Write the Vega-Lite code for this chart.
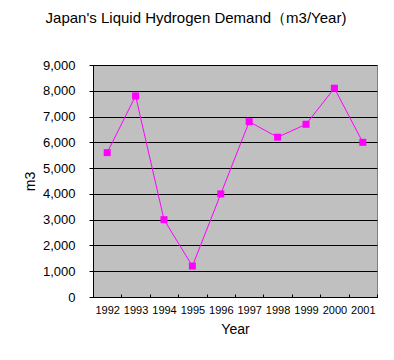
{
  "$schema": "https://vega.github.io/schema/vega-lite/v6.json",
  "width": 284,
  "height": 232,
  "autosize": "none",
  "padding": {"left": 93, "top": 65, "right": 17, "bottom": 63},
  "background": "white",
  "title": {
    "text": "Japan's Liquid Hydrogen Demand（m3/Year)",
    "font": "Liberation Sans",
    "fontSize": 15,
    "fontWeight": "normal",
    "color": "black",
    "anchor": "middle",
    "dx": -39,
    "offset": 33
  },
  "data": {
    "values": [
      {"Year": "1992", "m3": 5600},
      {"Year": "1993", "m3": 7800},
      {"Year": "1994", "m3": 3000},
      {"Year": "1995", "m3": 1200},
      {"Year": "1996", "m3": 4000},
      {"Year": "1997", "m3": 6800},
      {"Year": "1998", "m3": 6200},
      {"Year": "1999", "m3": 6700},
      {"Year": "2000", "m3": 8100},
      {"Year": "2001", "m3": 6000}
    ]
  },
  "encoding": {
    "x": {
      "field": "Year",
      "type": "ordinal",
      "scale": {"type": "band", "paddingInner": 0, "paddingOuter": 0},
      "axis": {
        "title": "Year",
        "labelAngle": 0,
        "labelFont": "Liberation Sans",
        "labelFontSize": 11,
        "labelColor": "black",
        "labelPadding": 10,
        "titleFont": "Liberation Sans",
        "titleFontSize": 14,
        "titleFontWeight": "normal",
        "titleColor": "black",
        "titlePadding": 7,
        "tickBand": "extent",
        "tickSize": -3,
        "tickColor": "black",
        "domainColor": "black",
        "grid": false
      }
    },
    "y": {
      "field": "m3",
      "type": "quantitative",
      "scale": {"domain": [0, 9000], "nice": false},
      "axis": {
        "title": "m3",
        "values": [0, 1000, 2000, 3000, 4000, 5000, 6000, 7000, 8000, 9000],
        "format": ",d",
        "labelFont": "Liberation Sans",
        "labelFontSize": 13,
        "labelColor": "black",
        "labelPadding": 14,
        "ticks": true,
        "tickSize": 4,
        "tickColor": "black",
        "domainColor": "black",
        "grid": true,
        "gridColor": "black",
        "gridOpacity": 1,
        "titleFont": "Liberation Sans",
        "titleFontSize": 14,
        "titleFontWeight": "normal",
        "titleColor": "black",
        "titleX": -63,
        "titleY": 116,
        "titleAngle": -90,
        "titleBaseline": "middle",
        "titleAlign": "center"
      }
    }
  },
  "layer": [
    {"mark": {"type": "line", "color": "#FF00FF", "strokeWidth": 1}},
    {"mark": {"type": "square", "color": "#FF00FF", "filled": true, "opacity": 1, "size": 49}}
  ],
  "config": {
    "view": {"fill": "#C0C0C0", "stroke": "#808080", "strokeWidth": 1}
  }
}
